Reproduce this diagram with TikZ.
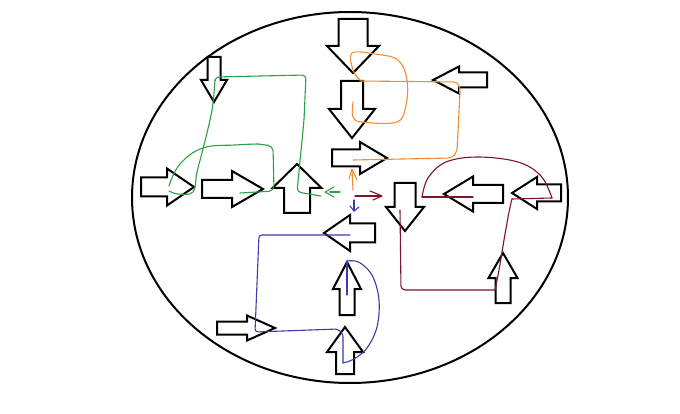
\documentclass[tikz,border=0pt]{standalone}
\definecolor{grn}{RGB}{45,160,70}
\definecolor{org}{RGB}{240,140,50}
\definecolor{mar}{RGB}{125,20,40}
\definecolor{blu}{RGB}{60,60,170}
\tikzset{
  blk/.style={draw=black,line width=2pt,line join=miter},
  cline/.style={line width=1.1pt,line cap=round,line join=round},
  gl/.style={cline,draw=grn},
  ol/.style={cline,draw=org},
  ml/.style={cline,draw=mar},
  bl/.style={cline,draw=blu}
}
% tip x, tip y, rotation, head length, head half-width, shaft half-width, total length
\newcommand\blockarrow[7]{\draw[blk,shift={(#1,#2)},rotate=#3] (0,0) -- (-#4,#5) -- (-#4,#6) -- (-#7,#6) -- (-#7,-#6) -- (-#4,-#6) -- (-#4,-#5) -- cycle;}
\begin{document}
\begin{tikzpicture}[x=1pt,y=-1pt]
\fill[white] (0,0) rectangle (680,414);
\useasboundingbox (0,0) rectangle (680,414);
\draw[line width=2pt] (350,197.5) ellipse [x radius=218pt, y radius=185.5pt];
% block arrows
\blockarrow{214}{102}{-90}{22}{13}{6.5}{45}
\blockarrow{194}{187}{0}{27}{18.5}{9.5}{53}
\blockarrow{263}{189}{0}{31}{18}{9}{61}
\blockarrow{297}{164}{90}{24}{24.5}{13}{49}
\blockarrow{353}{73}{-90}{27}{26}{14.5}{54}
\blockarrow{352}{138}{-90}{29}{23}{11}{57}
\blockarrow{433}{80}{180}{26}{13.5}{7.5}{54}
\blockarrow{387}{158}{0}{27}{16}{8.5}{55}
\blockarrow{405}{231}{-90}{24}{19}{10.5}{48}
\blockarrow{444}{194}{180}{29}{17.5}{9}{59}
\blockarrow{512}{193}{180}{25}{16}{8.5}{49}
\blockarrow{324}{233}{180}{26}{18}{9.5}{51}
\blockarrow{503}{253}{90}{25}{14.5}{7.5}{50}
\blockarrow{347}{262}{90}{27}{14}{7.5}{53}
\blockarrow{275}{328}{0}{28}{12.5}{6.5}{58}
\blockarrow{345}{327}{90}{25}{18}{9}{47}
% green
\draw[gl] plot[smooth,tension=0.6] coordinates {(169,191) (178,194) (193,192) (197,172) (204,145) (212,110) (215,80)};
\draw[gl,rounded corners=4pt] (215,80) -- (215,77) -- (306,75) -- (304,120) -- (297,192) -- (321,196);
\draw[gl] plot[smooth,tension=0.7] coordinates {(169,186) (180,164) (203,148) (235,145) (258,144)};
\draw[gl,rounded corners=5pt] (258,144) -- (273,146) -- (274,191) -- (240,193);
\draw[gl] (334,187) -- (325,192) -- (334,197);
\draw[gl] (330,192) -- (340,192);
% orange
\draw[ol] plot[smooth,tension=0.6] coordinates {(353,102) (353,117) (362,122) (397,122) (406,105) (407,80) (398,60) (375,54) (352,53) (353,70) (360,80)};
\draw[ol,rounded corners=5pt] (360,81) -- (459,82) -- (460,92) -- (457,152) -- (452,158) -- (353,160);
\draw[ol] (353,190) -- (352,170);
\draw[ol] (349,179) -- (352,169) -- (357,180);
% maroon
\draw[ml,rounded corners=4pt] (400,210) -- (401,290) -- (495,290);
\draw[ml] plot[smooth,tension=0.6] coordinates {(495,290) (499,270) (504,240) (509,212) (512,199)};
\draw[ml] (512,199) -- (552,198);
\draw[ml] plot[smooth,tension=0.6] coordinates {(552,198) (541,176) (518,162) (478,157) (446,162) (428,178) (422,197)};
\draw[ml] (422,197) -- (473,197);
\draw[ml] (355,196) -- (381,196);
\draw[ml] (370,191) -- (382,196) -- (373,200);
% blue
\draw[bl,rounded corners=3pt] (350,235) -- (259,235) -- (255,332) -- (338,329) -- (343,334) -- (343,363);
\draw[bl] plot[smooth,tension=0.6] coordinates {(343,363) (354,359) (367,348) (377,327) (379,300) (373,277) (363,265) (355,261) (347,261)};
\draw[bl] (347,261) -- (347,295);
\draw[bl] (354,200) -- (354,211);
\draw[bl] (350,206) -- (354,211) -- (359,207);
\end{tikzpicture}
\end{document}
